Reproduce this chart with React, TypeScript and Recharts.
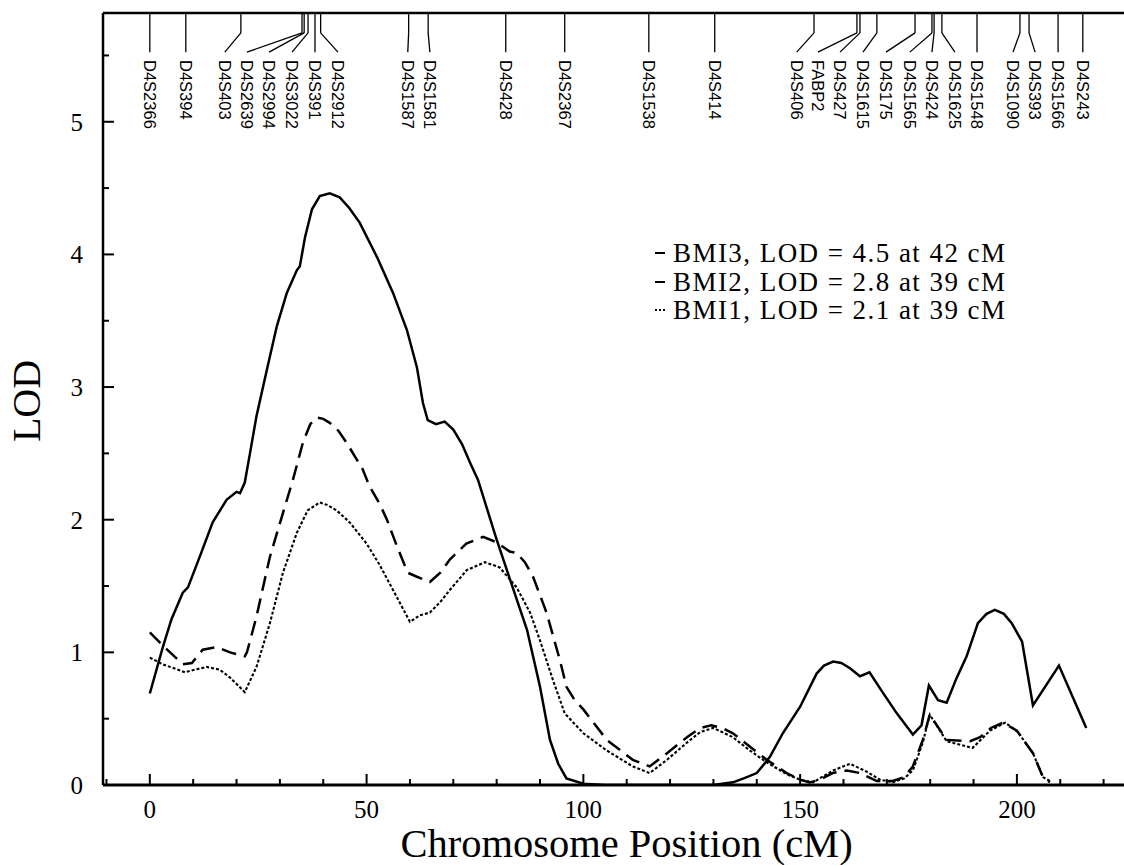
import React from 'react';
import { LineChart, Line, XAxis, YAxis, ReferenceLine, Legend } from 'recharts';

// ---------- data ----------
const bmi3Pos = [0, 3, 5, 7.6, 8.8, 11.5, 14.5, 17.7, 20, 20.8, 21.9, 23.1, 24.6, 27, 29.3, 31.6, 33.9, 34.6, 35.8, 37.4, 39.2, 41.5, 43.8, 46, 48.4, 52.4, 56.1, 59.3, 61.6, 63, 64.1, 66, 68, 70, 72, 74, 75.7, 80, 83.7, 87, 90, 92.3, 94.2, 96.1, 100, 105, 110, 120, 130, 134.5, 137, 140, 143, 146, 150, 153.8, 155.5, 157.6, 159.5, 161.5, 163.8, 166, 169, 172.3, 176, 178, 179.7, 181.8, 183.8, 186, 188.4, 191, 193, 194.9, 197, 198.8, 201.2, 203.7, 209.7, 216];
const bmi3Lod = [0.69, 1.04, 1.25, 1.45, 1.49, 1.72, 1.98, 2.15, 2.21, 2.2, 2.28, 2.5, 2.78, 3.13, 3.46, 3.71, 3.88, 3.91, 4.13, 4.34, 4.44, 4.46, 4.43, 4.35, 4.24, 3.98, 3.71, 3.43, 3.15, 2.88, 2.75, 2.72, 2.74, 2.68, 2.57, 2.42, 2.3, 1.85, 1.49, 1.17, 0.74, 0.34, 0.16, 0.05, 0.01, 0, 0, 0, 0, 0.02, 0.05, 0.09, 0.21, 0.39, 0.59, 0.84, 0.9, 0.93, 0.92, 0.88, 0.82, 0.85, 0.7, 0.54, 0.38, 0.45, 0.75, 0.64, 0.62, 0.8, 0.97, 1.22, 1.29, 1.32, 1.29, 1.22, 1.08, 0.6, 0.9, 0.43];

const bmi2Pos = [0, 4, 7.6, 9.7, 12.2, 15.4, 18.5, 21.9, 22.4, 24.6, 27.7, 30.7, 33, 35.3, 37, 38.5, 40, 41.5, 43.5, 45.4, 49.1, 50.7, 53, 54.7, 57, 59.5, 61.6, 64.6, 67, 69.2, 73, 76.9, 80, 83, 84.6, 86.5, 88.4, 91.5, 94.6, 96.1, 98, 100, 105.4, 111.4, 115.3, 119.3, 123.9, 127, 129.5, 132, 134.5, 138, 142.3, 146.9, 150, 152.2, 154.6, 157.5, 160.8, 163.8, 167.7, 171.4, 174, 176, 178.3, 179.9, 183.8, 189.2, 191.5, 194, 196.8, 200, 203.7, 206, 207.6];
const bmi2Lod = [1.15, 1.02, 0.91, 0.92, 1.02, 1.04, 1.0, 0.97, 1.0, 1.27, 1.72, 2.05, 2.3, 2.58, 2.72, 2.77, 2.76, 2.73, 2.67, 2.58, 2.38, 2.25, 2.12, 2.0, 1.8, 1.6, 1.57, 1.53, 1.6, 1.7, 1.82, 1.87, 1.83, 1.76, 1.75, 1.68, 1.57, 1.3, 0.94, 0.74, 0.64, 0.57, 0.34, 0.19, 0.14, 0.24, 0.36, 0.43, 0.45, 0.43, 0.39, 0.3, 0.19, 0.09, 0.04, 0.02, 0.04, 0.09, 0.11, 0.09, 0.03, 0.03, 0.06, 0.14, 0.34, 0.53, 0.34, 0.33, 0.36, 0.43, 0.47, 0.41, 0.24, 0.06, 0.02];

const bmi1Pos = [0, 3, 8.1, 10.5, 13.1, 16.1, 18.5, 21.9, 24.6, 27.7, 30.7, 33.9, 36.4, 39.2, 41, 43.1, 46.1, 50, 53, 56.1, 60, 62.3, 64.6, 67, 69.2, 73.1, 77.3, 80.7, 84.6, 87.7, 90, 93, 95.7, 100, 105.4, 111.4, 115.3, 119.3, 123.9, 127, 130, 134.5, 138, 142.3, 147, 150, 153, 157.6, 161.5, 165.4, 168.4, 171.4, 174, 176, 178.3, 179.9, 183.8, 189.8, 193.8, 197.3, 200.2, 203.7, 206, 207.6];
const bmi1Lod = [0.96, 0.91, 0.85, 0.87, 0.89, 0.87, 0.81, 0.7, 0.89, 1.22, 1.6, 1.9, 2.07, 2.13, 2.11, 2.07, 1.98, 1.82, 1.66, 1.47, 1.23, 1.28, 1.3, 1.38, 1.47, 1.62, 1.68, 1.64, 1.49, 1.3, 1.09, 0.79, 0.54, 0.39, 0.26, 0.14, 0.09, 0.19, 0.32, 0.4, 0.43, 0.36, 0.27, 0.17, 0.08, 0.04, 0.02, 0.11, 0.16, 0.1, 0.04, 0.02, 0.05, 0.11, 0.32, 0.53, 0.33, 0.28, 0.41, 0.47, 0.4, 0.24, 0.06, 0.03];

const seriesNames = ['BMI3, LOD = 4.5 at 42 cM', 'BMI2, LOD = 2.8 at 39 cM', 'BMI1, LOD = 2.1 at 39 cM'];

const markerNames = ['D4S2366', 'D4S394', 'D4S403', 'D4S2639', 'D4S2994', 'D4S3022', 'D4S391', 'D4S2912', 'D4S1587', 'D4S1581', 'D4S428', 'D4S2367', 'D4S1538', 'D4S414', 'D4S406', 'FABP2', 'D4S427', 'D4S1615', 'D4S175', 'D4S1565', 'D4S424', 'D4S1625', 'D4S1548', 'D4S1090', 'D4S393', 'D4S1566', 'D4S243'];
const markerPos = [0, 8.3, 21.0, 35.1, 35.6, 36.5, 38.1, 39.4, 59.7, 64.2, 82.1, 95.7, 115.1, 130.3, 153.2, 163.1, 163.8, 167.7, 176.5, 180.4, 180.9, 182.7, 190.8, 200.7, 202.8, 209.5, 215.2];
const markerLabelPos = [0, 8.3, 17.3, 22.4, 27.5, 32.8, 38.1, 43.4, 59.5, 64.6, 82.1, 95.7, 115.1, 130.3, 149.2, 154.1, 159.2, 164.5, 169.8, 175.3, 180.4, 185.7, 190.8, 199.1, 204.2, 209.5, 215.2];

const xTicks = [-10, 0, 10, 20, 30, 40, 50, 60, 70, 80, 90, 100, 110, 120, 130, 140, 150, 160, 170, 180, 190, 200, 210, 220, 230];
const yTicks = [0, 0.5, 1, 1.5, 2, 2.5, 3, 3.5, 4, 4.5, 5, 5.5];

const X_DOMAIN: [number, number] = [-10.8, 230.7];
const Y_MAX = 5.82;
const Y_KNEE = 5.67;
const Y_END = 5.525;

const toPoints = (xs: number[], ys: number[]) => xs.map((x, i) => ({ x, y: ys[i] }));
const bmi3 = toPoints(bmi3Pos, bmi3Lod);
const bmi2 = toPoints(bmi2Pos, bmi2Lod);
const bmi1 = toPoints(bmi1Pos, bmi1Lod);

const SERIF = '"Liberation Serif", "Times New Roman", serif';
const SANS = '"Liberation Sans", Arial, sans-serif';

const XTick = (props: any) => {
  const { x, y, payload } = props;
  const v = payload.value;
  const major = Math.abs(v % 50) < 1e-9;
  return (
    <g>
      <line x1={x} y1={y} x2={x} y2={y - (major ? 11 : 6)} stroke="#000" strokeWidth={2} />
      {major && v >= 0 ? (
        <text x={x} y={y + 33} textAnchor="middle" fontFamily={SERIF} fontSize={25} fill="#000">
          {v}
        </text>
      ) : null}
    </g>
  );
};

const YTick = (props: any) => {
  const { x, y, payload } = props;
  const v = payload.value;
  const major = Math.abs(v % 1) < 1e-9;
  return (
    <g>
      <line x1={x} y1={y} x2={x + (major ? 11 : 6)} y2={y} stroke="#000" strokeWidth={2} />
      {major ? (
        <text x={x - 20} y={y + 9} textAnchor="end" fontFamily={SERIF} fontSize={25} fill="#000">
          {v}
        </text>
      ) : null}
    </g>
  );
};

const TopTick = (props: any) => {
  const { x, y, index } = props;
  return (
    <text
      transform={`translate(${x},${y + 47}) rotate(90)`}
      textAnchor="start"
      dominantBaseline="central"
      fontFamily={SANS}
      fontSize={16.5}
      fill="#000"
    >
      {markerNames[index]}
    </text>
  );
};

const renderXLabel = (props: any) => {
  const vb = props.viewBox || {};
  return (
    <text x={vb.x + vb.width / 2} y={vb.y + 72} textAnchor="middle" fontFamily={SERIF} fontSize={40.5} fill="#000">
      Chromosome Position (cM)
    </text>
  );
};

const renderYLabel = (props: any) => {
  const vb = props.viewBox || {};
  const cy = vb.y + vb.height / 2;
  return (
    <text transform={`translate(40,${cy + 2}) rotate(-90)`} textAnchor="middle" fontFamily={SERIF} fontSize={40} fill="#000">
      LOD
    </text>
  );
};

const renderLegend = (props: any) => {
  const payload = [...(props.payload || [])].sort(
    (a: any, b: any) => seriesNames.indexOf(a.value) - seriesNames.indexOf(b.value)
  );
  return (
    <div style={{ fontFamily: SERIF, fontSize: 27, letterSpacing: 1.45, lineHeight: '28.5px', color: '#000' }}>
      {payload.map((p: any, i: number) => {
        const idx = seriesNames.indexOf(p.value);
        return (
          <div key={i} style={{ display: 'flex', alignItems: 'center', whiteSpace: 'nowrap', height: 28.5 }}>
            <svg width={20} height={10} style={{ flex: 'none' }}>
              <line
                x1={2}
                y1={5}
                x2={idx === 2 ? 14 : 12}
                y2={5}
                stroke="#000"
                strokeWidth={2}
                strokeDasharray={idx === 2 ? '2 2' : undefined}
              />
            </svg>
            <span>{p.value}</span>
          </div>
        );
      })}
    </div>
  );
};

export default function App() {
  return (
    <div style={{ position: 'absolute', left: 0, top: 0, width: 1124, height: 865, overflow: 'hidden', background: '#fff' }}>
      <LineChart width={1150} height={865} margin={{ top: 12, right: 0, bottom: 79, left: 102 }}>
        <XAxis
          xAxisId={0}
          type="number"
          dataKey="x"
          domain={X_DOMAIN}
          allowDataOverflow
          ticks={xTicks}
          interval={0}
          height={1}
          tickSize={0}
          tickMargin={0}
          tickLine={false}
          axisLine={{ stroke: '#000', strokeWidth: 3 }}
          tick={XTick}
          label={renderXLabel}
        />
        <XAxis
          xAxisId="top"
          orientation="top"
          type="number"
          dataKey="x"
          domain={X_DOMAIN}
          allowDataOverflow
          ticks={markerLabelPos}
          interval={0}
          height={1}
          tickSize={0}
          tickMargin={0}
          tickLine={false}
          axisLine={{ stroke: '#000', strokeWidth: 2.5 }}
          tick={TopTick}
        />
        <YAxis
          type="number"
          domain={[0, Y_MAX]}
          allowDataOverflow
          ticks={yTicks}
          interval={0}
          width={1}
          tickSize={0}
          tickMargin={0}
          tickLine={false}
          axisLine={{ stroke: '#000', strokeWidth: 2.5 }}
          tick={YTick}
          label={renderYLabel}
        />
        {markerPos.map((m, i) => (
          <ReferenceLine
            key={'a' + i}
            segment={[{ x: m, y: Y_MAX }, { x: m, y: Y_KNEE }]}
            stroke="#000"
            strokeWidth={1.3}
            ifOverflow="visible"
          />
        ))}
        {markerPos.map((m, i) => (
          <ReferenceLine
            key={'b' + i}
            segment={[{ x: m, y: Y_KNEE }, { x: markerLabelPos[i], y: Y_END }]}
            stroke="#000"
            strokeWidth={1.3}
            ifOverflow="visible"
          />
        ))}
        <Line data={bmi3} dataKey="y" name={seriesNames[0]} type="linear" stroke="#000" strokeWidth={2.5} dot={false} isAnimationActive={false} />
        <Line data={bmi2} dataKey="y" name={seriesNames[1]} type="linear" stroke="#000" strokeWidth={2.5} strokeDasharray="15 8" dot={false} isAnimationActive={false} />
        <Line data={bmi1} dataKey="y" name={seriesNames[2]} type="linear" stroke="#000" strokeWidth={2.1} strokeDasharray="3 2" dot={false} isAnimationActive={false} />
        <Legend
          layout="horizontal"
          verticalAlign="middle"
          align="center"
          content={renderLegend}
          wrapperStyle={{ left: 653, top: 239, width: 440, height: 'auto' }}
        />
      </LineChart>
    </div>
  );
}
